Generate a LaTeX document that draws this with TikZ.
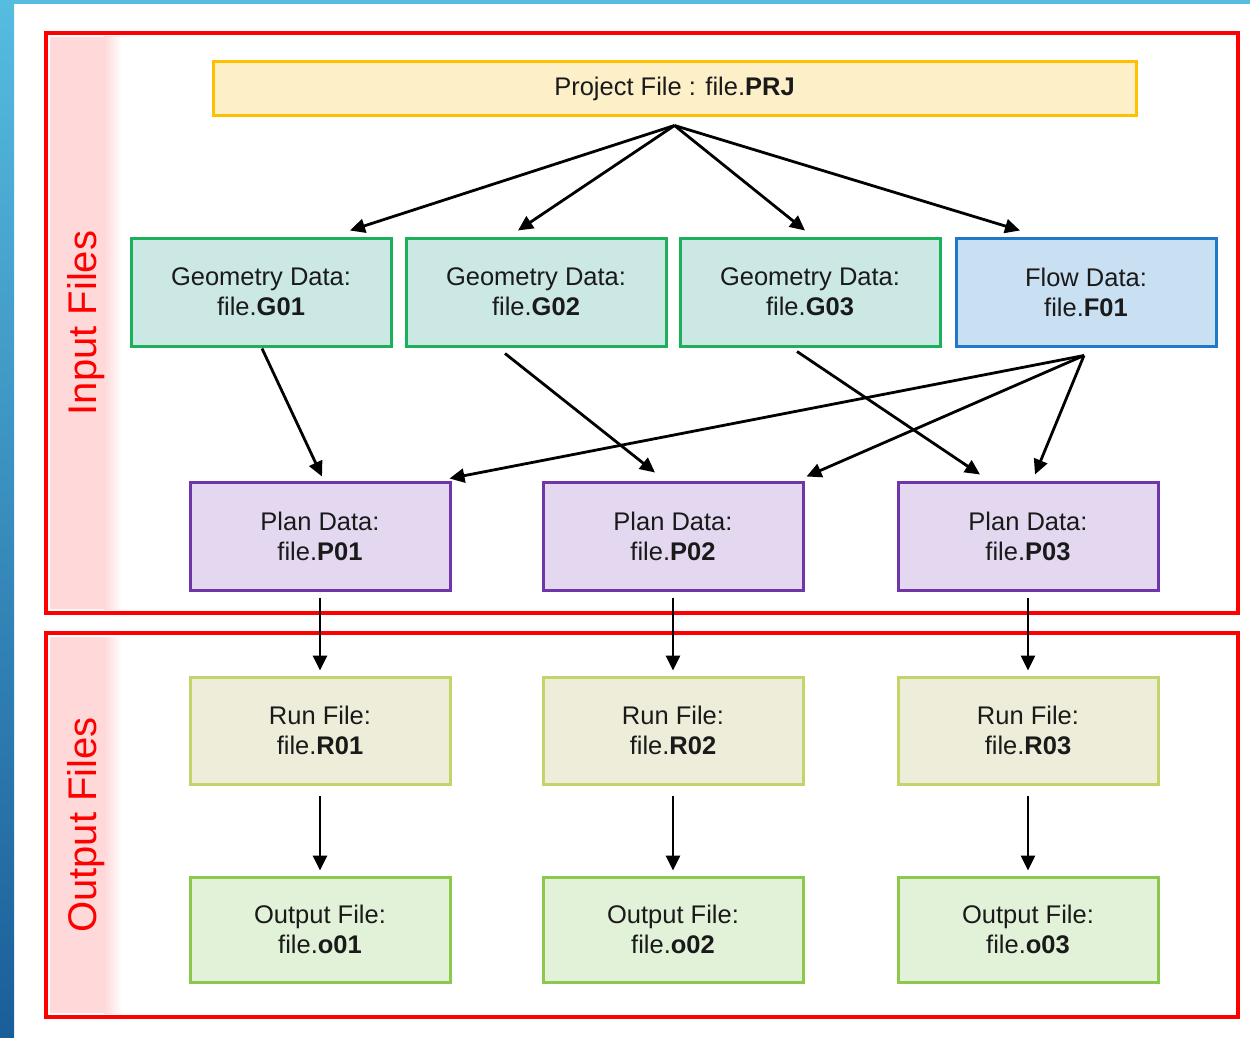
\documentclass[tikz,border=0pt]{standalone}
\usepackage{fontspec}
\setmainfont{Liberation Sans}
\usetikzlibrary{arrows.meta,calc}
\definecolor{bgtop}{HTML}{56BCE0}
\definecolor{bgbot}{HTML}{1A5E99}
\definecolor{prjfill}{HTML}{FDF0C8}
\definecolor{prjdraw}{HTML}{FFC000}
\definecolor{geofill}{HTML}{CCE8E5}
\definecolor{geodraw}{HTML}{1DB05A}
\definecolor{flowfill}{HTML}{C9E0F3}
\definecolor{flowdraw}{HTML}{1F78C8}
\definecolor{planfill}{HTML}{E3D8EF}
\definecolor{plandraw}{HTML}{7035A8}
\definecolor{runfill}{HTML}{EDEDDA}
\definecolor{rundraw}{HTML}{C5D46A}
\definecolor{outfill}{HTML}{E2F2D8}
\definecolor{outdraw}{HTML}{8CC84B}
\definecolor{frame}{HTML}{FF0000}
\definecolor{txt}{HTML}{1A1A1A}
\tikzset{
  filebox/.style={draw, line width=3pt, minimum width=260pt, minimum height=108pt,
    align=center, text=txt, font=\fontsize{25.5}{30}\selectfont, inner sep=0pt},
  geobox/.style={filebox, fill=geofill, draw=geodraw},
  flowbox/.style={filebox, fill=flowfill, draw=flowdraw},
  planbox/.style={filebox, fill=planfill, draw=plandraw},
  runbox/.style={filebox, fill=runfill, draw=rundraw, minimum height=107pt},
  outbox/.style={filebox, fill=outfill, draw=outdraw, minimum height=105pt},
  conn/.style={line width=2.8pt, -{Triangle[length=15pt,width=14pt]}},
  sidelabel/.style={rotate=90, text=frame, font=\fontsize{40}{48}\selectfont},
  redframe/.style={draw=frame, line width=4pt}
}
\begin{document}
\begin{tikzpicture}[x=1pt,y=-1pt]
\useasboundingbox (0,0) rectangle (1250,1038);
\fill[white] (0,0) rectangle (1250,1038);
\shade[top color=bgtop, bottom color=bgbot] (0,0) rectangle (14,1038);
\fill[bgtop] (0,0) rectangle (1250,4);
% side strips
\fill[red!15] (50,37) rectangle (104,609);
\shade[left color=red!15, right color=white] (104,37) rectangle (122,609);
\fill[red!15] (50,637) rectangle (104,1013);
\shade[left color=red!15, right color=white] (104,637) rectangle (122,1013);
\draw[redframe] (46,33) rectangle (1238,613);
\draw[redframe] (46,633) rectangle (1238,1017);
\node[sidelabel] (inlab) at (86,323) {Input Files};
\node[sidelabel] (outlab) at (86,825) {Output Files};
% nodes
\node[filebox, fill=prjfill, draw=prjdraw, minimum width=923pt, minimum height=54pt] (prj) at (674.5,89) {Project File : file.\textbf{PRJ}};
\node[geobox] (g1) at (261,292) {Geometry Data:\\file.\textbf{G01}};
\node[geobox] (g2) at (536,292) {Geometry Data:\\file.\textbf{G02}};
\node[geobox] (g3) at (810,292) {Geometry Data:\\file.\textbf{G03}};
\node[flowbox] (f1) at (1086,292) {Flow Data:\\file.\textbf{F01}};
\node[planbox] (p1) at (320,536) {Plan Data:\\file.\textbf{P01}};
\node[planbox] (p2) at (673,536) {Plan Data:\\file.\textbf{P02}};
\node[planbox] (p3) at (1028,536) {Plan Data:\\file.\textbf{P03}};
\node[runbox] (r1) at (320,730.5) {Run File:\\file.\textbf{R01}};
\node[runbox] (r2) at (673,730.5) {Run File:\\file.\textbf{R02}};
\node[runbox] (r3) at (1028,730.5) {Run File:\\file.\textbf{R03}};
\node[outbox] (o1) at (320,929.5) {Output File:\\file.\textbf{o01}};
\node[outbox] (o2) at (673,929.5) {Output File:\\file.\textbf{o02}};
\node[outbox] (o3) at (1028,929.5) {Output File:\\file.\textbf{o03}};
% connectors
\coordinate (hub) at ($(prj.south)+(0,8)$);
\draw[conn] (hub) -- ($(g1.north)+(89,-6)$);
\draw[conn] (hub) -- ($(g2.north)+(-18,-6)$);
\draw[conn] (hub) -- ($(g3.north)+(-5,-6)$);
\draw[conn] (hub) -- ($(f1.north)+(-66,-6)$);
\draw[conn] ($(g1.south)+(1,1)$) -- ($(p1.north)+(2,-4)$);
\draw[conn] ($(g2.south)+(-31,6)$) -- ($(p2.north)+(-18,-8)$);
\draw[conn] ($(g3.south)+(-13,4)$) -- ($(p3.north)+(-48,-6)$);
\coordinate (fhub) at ($(f1.south)+(-2,8)$);
\draw[conn] (fhub) -- ($(p1.north east)+(-2,-2)$);
\draw[conn] (fhub) -- ($(p2.north east)+(2,-4)$);
\draw[conn] (fhub) -- ($(p3.north)+(7,-6)$);
\foreach \a/\b in {p1/r1,p2/r2,p3/r3}{
  \draw[conn] ($(\a.south)+(0,6)$) -- ($(\b.north)+(0,-5)$);
}
\foreach \a/\b in {r1/o1,r2/o2,r3/o3}{
  \draw[conn] ($(\a.south)+(0,10)$) -- ($(\b.north)+(0,-5)$);
}
\end{tikzpicture}
\end{document}
